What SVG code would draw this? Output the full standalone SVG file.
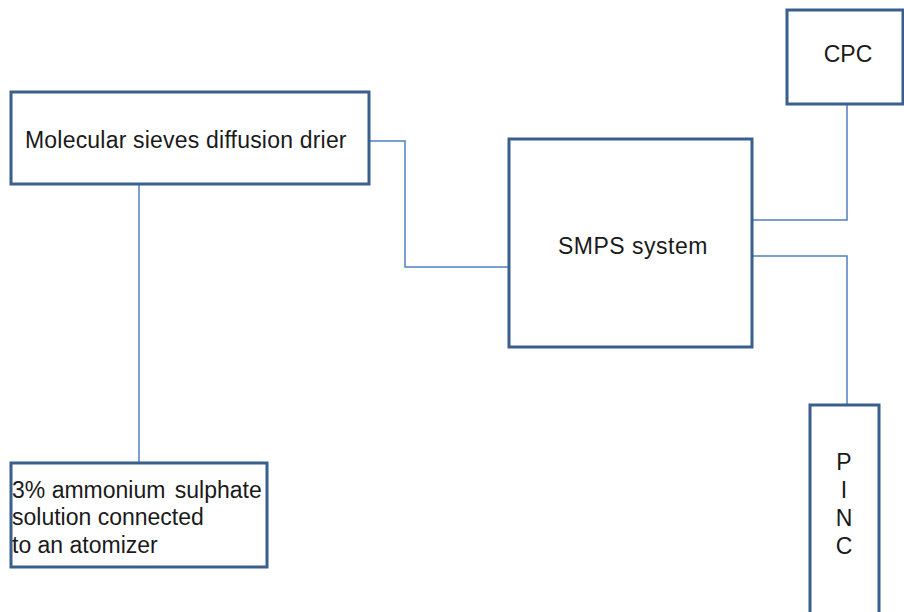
<svg xmlns="http://www.w3.org/2000/svg" width="904" height="612" viewBox="0 0 904 612">
<style>
.box{fill:#fff;stroke:#3b5f8c;stroke-width:3}
.conn{fill:none;stroke:#4f7fbf;stroke-width:1.5}
text{font-family:"Liberation Sans",Arial,sans-serif;font-size:23px;fill:#1a1a1a}
</style>
<rect width="904" height="612" fill="#fff"/>
<g id="connectors">
<polyline class="conn" points="369,141 405,141 405,267 509,267"/>
<line class="conn" x1="139" y1="184" x2="139" y2="463"/>
<polyline class="conn" points="847,104 847,220 752,220"/>
<polyline class="conn" points="752,256 847,256 847,405"/>
</g>
<g id="drier">
<rect class="box" x="11" y="92" width="358" height="92"/>
<text x="25" y="148" letter-spacing="0.2">Molecular sieves diffusion drier</text>
</g>
<g id="smps">
<rect class="box" x="509" y="139" width="243" height="208"/>
<text x="633" y="254" text-anchor="middle" letter-spacing="0.5">SMPS system</text>
</g>
<g id="cpc">
<rect class="box" x="787" y="10" width="116" height="94"/>
<text x="848" y="62" text-anchor="middle">CPC</text>
</g>
<g id="pinc">
<rect class="box" x="810" y="405" width="69" height="215"/>
<text x="844" y="470" text-anchor="middle">P</text>
<text x="844" y="498" text-anchor="middle">I</text>
<text x="844" y="526" text-anchor="middle">N</text>
<text x="844" y="554" text-anchor="middle">C</text>
</g>
<g id="solution">
<rect class="box" x="11" y="463" width="256" height="104"/>
<text x="12" y="498">3% ammonium <tspan dx="3">sulphate</tspan></text>
<text x="12" y="525">solution connected</text>
<text x="12" y="553">to an atomizer</text>
</g>
</svg>
